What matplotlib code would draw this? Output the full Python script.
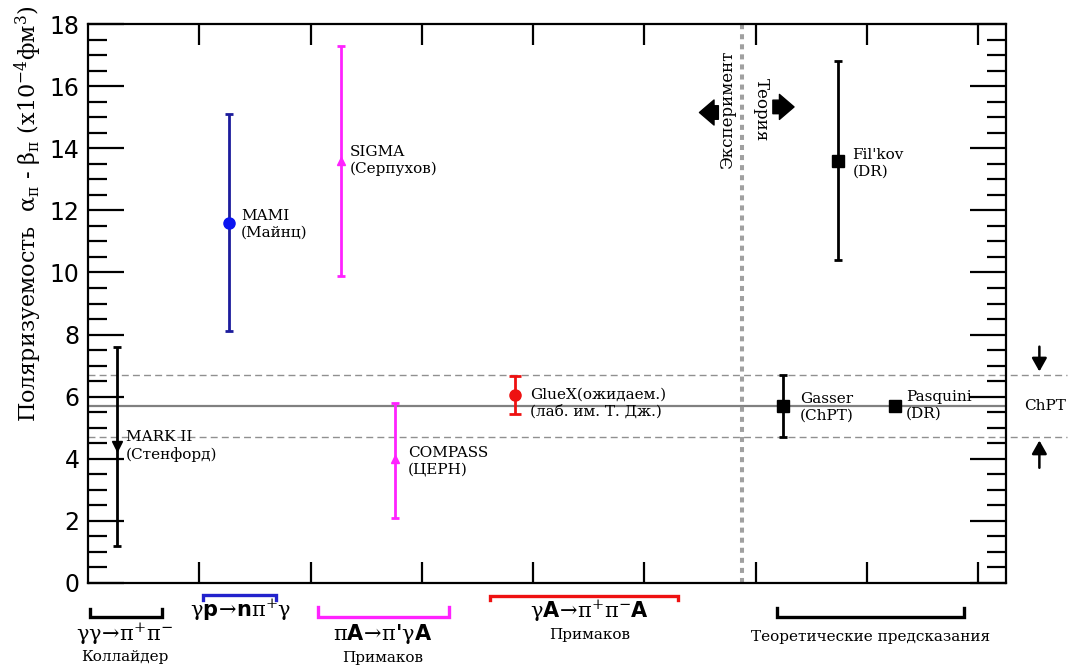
import matplotlib
matplotlib.use("Agg")
import matplotlib.pyplot as plt
import numpy as np

plt.rcParams['mathtext.fontset'] = 'custom'
plt.rcParams['mathtext.rm'] = 'DejaVu Serif'
plt.rcParams['mathtext.it'] = 'DejaVu Serif:italic'
plt.rcParams['mathtext.bf'] = 'DejaVu Sans:bold'
plt.rcParams['mathtext.default'] = 'rm'

# ---- data ----
exp_names = ["MARK II", "MAMI", "SIGMA", "COMPASS", "GlueX"]
exp_x = [0.26, 1.27, 2.27, 2.76, 3.84]
exp_val = [4.4, 11.6, 13.6, 4.0, 6.05]
exp_lo = [1.2, 8.1, 9.9, 2.1, 5.45]
exp_hi = [7.6, 15.1, 17.3, 5.8, 6.65]
exp_labels = ["MARK II\n(Стенфорд)", "MAMI\n(Майнц)", "SIGMA\n(Серпухов)",
              "COMPASS\n(ЦЕРН)", "GlueX(ожидаем.)\n(лаб. им. Т. Дж.)"]
exp_markers = ["v", "o", "^", "^", "o"]
exp_ecolors = ["black", "#1c1c9c", "#ff22ff", "#ff22ff", "#ee1111"]
exp_mcolors = ["black", "#0a14f0", "#ff22ff", "#ff22ff", "#ee1111"]

th_names = ["Gasser", "Pasquini", "Fil'kov"]
th_x = [6.25, 7.25, 6.74]
th_val = [5.7, 5.7, 13.6]
th_lo = [4.7, 5.7, 10.4]
th_hi = [6.7, 5.7, 16.8]
th_labels = ["Gasser\n(ChPT)", "Pasquini\n(DR)", "Fil'kov\n(DR)"]

chpt_center = 5.7
chpt_band = [4.7, 6.7]

fig = plt.figure(figsize=(10.7, 6.72), dpi=100)
W, H = 1070, 672
ax = fig.add_axes([88 / W, (H - 583) / H, (1006 - 88) / W, (583 - 24) / H])
ax.set_xlim(0, 8.25)
ax.set_ylim(0, 18)

for s in ax.spines.values():
    s.set_linewidth(1.6)

ax.set_xticks(np.arange(1, 9))
ax.set_xticklabels([])
ax.set_yticks(np.arange(0, 19, 2))
ax.set_yticks(np.arange(0, 18.01, 0.5), minor=True)
ax.tick_params(axis='x', which='both', direction='in', length=15, width=1.6,
               top=True, bottom=True)
ax.tick_params(axis='y', which='major', direction='in', length=26, width=1.6,
               left=True, right=True, labelsize=17, pad=6)
ax.tick_params(axis='y', which='minor', direction='in', length=14, width=1.6,
               left=True, right=True)
for lab in ax.get_yticklabels():
    lab.set_fontfamily('DejaVu Sans')

# horizontal reference lines
ax.axhline(chpt_center, color='#808080', lw=1.6, zorder=1)
for yb in chpt_band:
    ax.plot([0, 8.8], [yb, yb], color='#909090', lw=1.0, ls=(0, (5, 3)),
            clip_on=False, zorder=1)

# vertical separator
ax.axvline(5.88, color='#a0a0a0', lw=2.9, ls=(0, (1.25, 1.25)), zorder=1)

# experimental points
caps = [2.8, 2.8, 2.8, 2.8, 4.5]
msz = [7, 8, 6, 6, 8]
for i in range(len(exp_x)):
    ax.errorbar(exp_x[i], exp_val[i],
                yerr=[[exp_val[i] - exp_lo[i]], [exp_hi[i] - exp_val[i]]],
                fmt='none', ecolor=exp_ecolors[i], elinewidth=2.0,
                capsize=caps[i], capthick=2.0, zorder=3)
    ax.plot(exp_x[i], exp_val[i], marker=exp_markers[i], color=exp_mcolors[i],
            ms=msz[i], ls='none', zorder=4)

exp_lab_pos = [(0.34, 4.4), (1.375, 11.55), (2.35, 13.6), (2.875, 3.93), (3.97, 5.8)]
for (lx, ly), t in zip(exp_lab_pos, exp_labels):
    ax.text(lx, ly, t, family='DejaVu Serif', fontsize=11, ha='left', va='center',
            linespacing=1.25)

# theory points
for i in range(len(th_x)):
    if th_hi[i] > th_lo[i]:
        ax.errorbar(th_x[i], th_val[i],
                    yerr=[[th_val[i] - th_lo[i]], [th_hi[i] - th_val[i]]],
                    fmt='none', ecolor='black', elinewidth=2.0, capsize=3,
                    capthick=2.0, zorder=3)
    ax.plot(th_x[i], th_val[i], marker='s', color='black', ms=8, ls='none', zorder=4)

th_lab_pos = [(6.40, 5.67), (7.35, 5.73), (6.87, 13.5)]
for (lx, ly), t in zip(th_lab_pos, th_labels):
    ax.text(lx, ly, t, family='DejaVu Serif', fontsize=11, ha='left', va='center',
            linespacing=1.25)

# Experiment / Theory labels and arrows
ax.text(5.75, 15.25, "Эксперимент", rotation=90, family='DejaVu Serif',
        fontsize=12, ha='center', va='center')
ax.text(6.05, 15.25, "Теория", rotation=270, family='DejaVu Serif',
        fontsize=12, ha='center', va='center')
astyle = 'simple,head_width=1.2,head_length=0.7,tail_width=0.65'
ax.annotate('', xy=(5.47, 15.15), xytext=(5.69, 15.15),
            arrowprops=dict(arrowstyle=astyle, color='black', mutation_scale=15))
ax.annotate('', xy=(6.37, 15.33), xytext=(6.13, 15.33),
            arrowprops=dict(arrowstyle=astyle, color='black', mutation_scale=15))

# ChPT on the right
ax.text(8.6, 5.7, "ChPT", family='DejaVu Serif', fontsize=11, ha='center',
        va='center', clip_on=False)
ax.annotate('', xy=(8.55, 6.72), xytext=(8.55, 7.7), annotation_clip=False,
            arrowprops=dict(arrowstyle='-|>,head_width=0.45,head_length=0.8',
                            color='black', lw=1.8))
ax.annotate('', xy=(8.55, 4.68), xytext=(8.55, 3.62), annotation_clip=False,
            arrowprops=dict(arrowstyle='-|>,head_width=0.45,head_length=0.8',
                            color='black', lw=1.8))

# bottom brackets
def bracket(x0, x1, ybase, yend, color):
    ax.plot([x0, x0, x1, x1], [yend, ybase, ybase, yend], color=color, lw=2.4,
            clip_on=False, solid_joinstyle='miter')

bracket(0.02, 0.665, -1.09, -0.84, 'black')
bracket(1.03, 1.69, -0.39, -0.55, '#2222cc')
bracket(2.07, 3.24, -1.09, -0.77, '#ff22ff')
bracket(3.61, 5.30, -0.42, -0.55, '#ee1111')
bracket(6.19, 7.87, -1.09, -0.80, 'black')

fsz = 15
ax.text(0.33, -1.64, r'$\gamma\gamma\!\rightarrow\!\pi^{+}\pi^{-}$', fontsize=fsz,
        ha='center', va='center', clip_on=False)
ax.text(0.33, -2.38, 'Коллайдер', family='DejaVu Serif', fontsize=11,
        ha='center', va='center')
ax.text(1.37, -0.86, r'$\gamma\mathbf{p}\!\rightarrow\!\mathbf{n}\pi^{+}\gamma$',
        fontsize=fsz, ha='center', va='center')
ax.text(2.65, -1.64, r"$\pi\mathbf{A}\!\rightarrow\!\pi$'$\gamma\mathbf{A}$",
        fontsize=fsz, ha='center', va='center', family='DejaVu Sans',
        fontweight='bold')
ax.text(2.65, -2.41, 'Примаков', family='DejaVu Serif', fontsize=11,
        ha='center', va='center')
ax.text(4.51, -0.92, r'$\gamma\mathbf{A}\!\rightarrow\!\pi^{+}\pi^{-}\mathbf{A}$',
        fontsize=fsz, ha='center', va='center')
ax.text(4.51, -1.66, 'Примаков', family='DejaVu Serif', fontsize=11,
        ha='center', va='center')
ax.text(7.03, -1.74, 'Теоретические предсказания', family='DejaVu Serif',
        fontsize=11, ha='center', va='center')

# y label
fig.text(28 / W, 1 - 214 / H,
         r'Поляризуемость  $\alpha_{\pi}$ - $\beta_{\pi}$ (x10$^{-4}$фм$^{3}$)',
         rotation=90, ha='center', va='center', family='DejaVu Serif',
         fontsize=16, math_fontfamily='dejavuserif')

fig.savefig('out.png', dpi=100)
